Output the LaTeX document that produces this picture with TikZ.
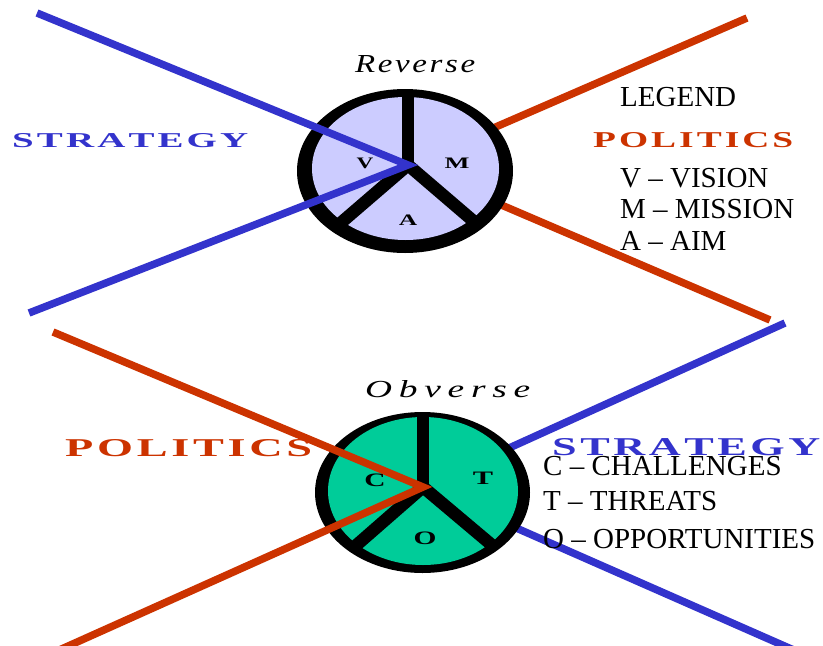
\documentclass[tikz,border=0pt]{standalone}
\usepackage{fontspec}
\setmainfont{Liberation Serif}
\usepackage{graphicx}
\definecolor{stratblue}{HTML}{3333CC}
\definecolor{polred}{HTML}{CC3300}
\definecolor{lavfill}{HTML}{CCCCFF}
\definecolor{pgreen}{HTML}{00CC99}
\makeatletter
\def\lspgap{0.08em}
\newcommand\lsp[1]{\lsp@a#1\relax\unkern}
\def\lsp@a#1{\ifx#1\relax\else#1\kern\lspgap\expandafter\lsp@a\fi}
\makeatother
\tikzset{
  bigword/.style={anchor=base west, inner sep=0pt, font=\bfseries\fontsize{21}{21}\selectfont},
  legendtxt/.style={anchor=base west, inner sep=0pt, font=\fontsize{29}{30}\selectfont},
  seglabel/.style={inner sep=0pt, font=\bfseries\fontsize{16}{16}\selectfont},
  seglabelb/.style={inner sep=0pt, font=\bfseries\fontsize{19}{19}\selectfont},
  titletxt/.style={anchor=base west, inner sep=0pt, font=\itshape\fontsize{26}{26}\selectfont},
  spoke/.style={line width=12.5pt},
  stratline/.style={draw=stratblue, line width=7.5pt, miter limit=20},
  polline/.style={draw=polred, line width=7.5pt, miter limit=20},
}
\begin{document}
\begin{tikzpicture}[x=1pt,y=-1pt]
\useasboundingbox (0,0) rectangle (823,646);
\clip (0,0) rectangle (823,646);
% key points
\coordinate (ctop) at (408,165);
\coordinate (cbot) at (423,487);
\coordinate (bA) at (37,13);
\coordinate (bB) at (29,313);
\coordinate (rA) at (747,18);
\coordinate (rB) at (770,320);
\coordinate (rC) at (53,332);
\coordinate (rD) at (37,660);
\coordinate (bC) at (785,323);
\coordinate (bD) at (805,655);
% lines behind the circles
\draw[polline] (rA) -- (ctop);
\draw[polline] (rB) -- (ctop);
\draw[stratline] (bC) -- (cbot);
\draw[stratline] (bD) -- (cbot);
% top circle (Reverse)
\fill[black] (405,171) ellipse [x radius=108, y radius=82];
\fill[lavfill] (405.5,168.5) ellipse [x radius=93.5, y radius=71.5];
\coordinate (tv) at (408,92);
\coordinate (tl) at (336,227);
\coordinate (tr) at (478,225);
\draw[spoke] (ctop) -- (tv);
\draw[spoke] (ctop) -- (tl);
\draw[spoke] (ctop) -- (tr);
% bottom circle (Obverse)
\fill[black] (422.5,492.5) ellipse [x radius=107.5, y radius=80.5];
\fill[pgreen] (423,491) ellipse [x radius=95, y radius=74];
\coordinate (bv) at (423,414);
\coordinate (bl) at (352,549);
\coordinate (br) at (493,546);
\draw[spoke] (cbot) -- (bv);
\draw[spoke] (cbot) -- (bl);
\draw[spoke] (cbot) -- (br);
% lines over the circles
\draw[stratline] (bA) -- (ctop) -- (bB);
\draw[polline] (rC) -- (cbot) -- (rD);
% segment labels
\node[seglabel] (V) at (365,163) {\scalebox{1.45}[1]{V}};
\node[seglabel] (M) at (457,163) {\scalebox{1.65}[1]{M}};
\node[seglabel] (A) at (408,220) {\scalebox{1.6}[1]{A}};
\node[seglabelb] (C) at (375,480) {\scalebox{1.55}[1]{C}};
\node[seglabelb] (T) at (483,478) {\scalebox{1.6}[1]{T}};
\node[seglabelb] (O) at (425,538) {\scalebox{1.55}[1]{O}};
% titles
\node[titletxt] (rev) at (355,72) {\resizebox{120pt}{17pt}{\def\lspgap{0.08em}\lsp{Reverse}}};
\node[titletxt] (obv) at (365,397) {\resizebox{165pt}{17pt}{\def\lspgap{0.18em}\lsp{Obverse}}};
% big words
\node[bigword, text=stratblue] (strat1) at (12,147) {\resizebox{236pt}{14pt}{\lsp{STRATEGY}}};
\node[bigword, text=polred] (pol1) at (593,147) {\resizebox{200pt}{15pt}{\lsp{POLITICS}}};
\node[bigword, text=polred] (pol2) at (65,456) {\resizebox{247pt}{17pt}{\lsp{POLITICS}}};
\node[bigword, text=stratblue] (strat2) at (552,455) {\resizebox{268pt}{17pt}{\lsp{STRATEGY}}};
% legends
\node[legendtxt] (lg) at (620,106) {LEGEND};
\node[legendtxt] (lv) at (620,187) {V – VISION};
\node[legendtxt] (lm) at (620,218) {M – MISSION};
\node[legendtxt] (la) at (620,250) {A – AIM};
\node[legendtxt] (lc) at (543,475) {C – CHALLENGES};
\node[legendtxt] (lt) at (543,510) {T – THREATS};
\node[legendtxt] (lo) at (543,548) {O – OPPORTUNITIES};
\end{tikzpicture}
\end{document}
